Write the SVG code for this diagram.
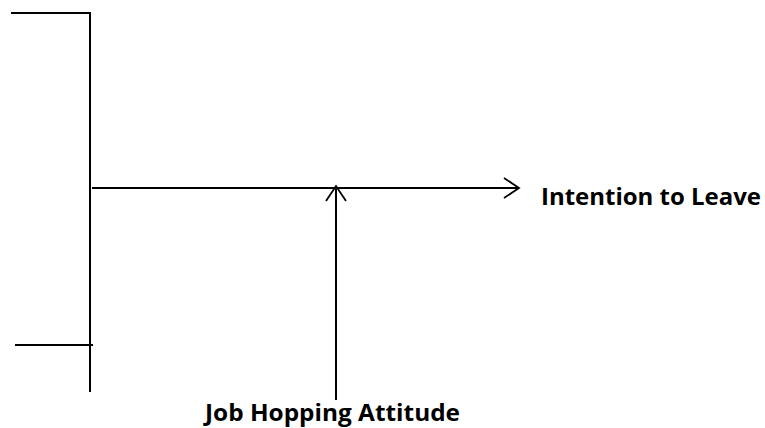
<svg xmlns="http://www.w3.org/2000/svg" width="765" height="428" viewBox="0 0 765 428">
<style>
.ln{stroke:#000;stroke-width:2;fill:none}
.lbl{font-family:"Open Sans","Liberation Sans",sans-serif;font-weight:bold;font-size:24px;fill:#000}
</style>
<defs>
<marker id="ah" viewBox="0 0 18 24" refX="16" refY="12" markerWidth="18" markerHeight="24" markerUnits="userSpaceOnUse" orient="auto">
<path d="M1,2 L16,12 L1,22" fill="none" stroke="#000" stroke-width="1.8"/>
</marker>
</defs>
<rect width="765" height="428" fill="#fff"/>
<g id="connectors">
<path class="ln" d="M11,13 H90 V392"/>
<path class="ln" d="M15,345 H93"/>
<path class="ln" d="M92,188 H519" marker-end="url(#ah)"/>
<path class="ln" d="M336,400 V186" marker-end="url(#ah)"/>
</g>
<g id="intention">
<text class="lbl" x="541" y="205" textLength="220" lengthAdjust="spacingAndGlyphs">Intention to Leave</text>
</g>
<g id="jobhopping">
<text class="lbl" x="205" y="421" textLength="255" lengthAdjust="spacingAndGlyphs">Job Hopping Attitude</text>
</g>
</svg>
